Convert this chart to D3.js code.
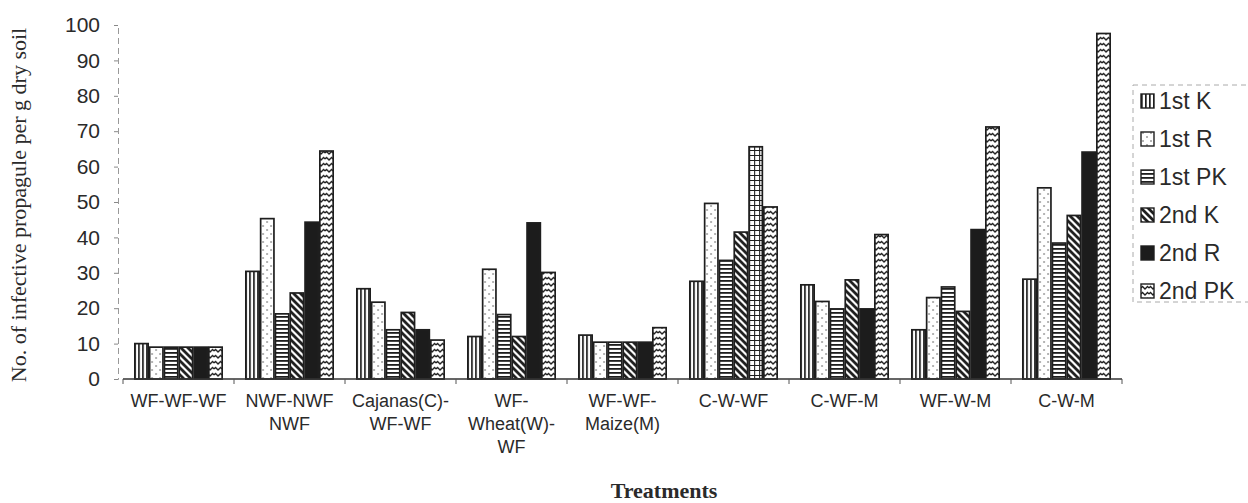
<!DOCTYPE html>
<html>
<head>
<meta charset="utf-8">
<script src="https://cdn.jsdelivr.net/npm/d3@7"></script>
<style>
  html, body { margin: 0; padding: 0; background: #fff; }
  svg { display: block; }
</style>
</head>
<body>
<svg id="chart" width="1248" height="503"></svg>
<script>
// ---------------- DATA ----------------
const categories = ["WF-WF-WF", "NWF-NWF-NWF", "Cajanas(C)-WF-WF", "WF-Wheat(W)-WF",
  "WF-WF-Maize(M)", "C-W-WF", "C-WF-M", "WF-W-M", "C-W-M"];
const categoryLines = [["WF-WF-WF"], ["NWF-NWF", "NWF"], ["Cajanas(C)-", "WF-WF"],
  ["WF-", "Wheat(W)-", "WF"], ["WF-WF-", "Maize(M)"], ["C-W-WF"], ["C-WF-M"], ["WF-W-M"], ["C-W-M"]];
const seriesNames = ["1st K", "1st R", "1st PK", "2nd K", "2nd R", "2nd PK"];
const first_K  = [10, 30.4, 25.5, 12, 12.4, 27.6, 26.6, 13.9, 28.2];
const first_R  = [9, 45.3, 21.7, 31, 10.4, 49.6, 21.9, 23, 54];
const first_PK = [9, 18.4, 13.9, 18.2, 10.4, 33.5, 19.8, 26, 38.4];
const second_K = [9, 24.3, 18.8, 12, 10.4, 41.5, 28, 19.1, 46.2];
const second_R = [9, 44.3, 13.9, 44.1, 10.4, 65.6, 19.8, 42.2, 64.1];
const second_PK = [9, 64.4, 11, 30.1, 14.5, 48.6, 40.8, 71.2, 97.6];
const yTicks = [0, 10, 20, 30, 40, 50, 60, 70, 80, 90, 100];
const yTitle = "No. of infective propagule per g dry soil";
const xTitle = "Treatments";

const seriesValues = [first_K, first_R, first_PK, second_K, second_R, second_PK];

// ---------------- CHART ----------------
(function () {
const svg = d3.select("#chart");
const ink = "#1e1e1e";
const defs = svg.append("defs");

function pat(id, w, h, build) {
  const p = defs.append("pattern").attr("id", id).attr("patternUnits", "userSpaceOnUse")
    .attr("width", w).attr("height", h);
  p.append("rect").attr("width", w).attr("height", h).attr("fill", "#fff");
  build(p);
}
pat("p-vert", 4, 4, p => p.append("rect").attr("x", 0).attr("y", 0).attr("width", 1.7).attr("height", 4).attr("fill", ink));
pat("p-dots", 8, 8, p => {
  p.append("circle").attr("cx", 2).attr("cy", 2).attr("r", 0.8).attr("fill", "#555");
  p.append("circle").attr("cx", 6).attr("cy", 6).attr("r", 0.8).attr("fill", "#555");
});
pat("p-horz", 4, 4, p => p.append("rect").attr("x", 0).attr("y", 0).attr("width", 4).attr("height", 1.8).attr("fill", ink));
pat("p-diag", 7, 7, p => {
  p.append("path").attr("d", "M-2,-2 L9,9 M-2,5 L2,9 M5,-2 L9,2").attr("stroke", ink).attr("stroke-width", 2.8);
});
pat("p-wave", 8, 6, p => {
  p.append("path").attr("d", "M0,3 L1.5,1.5 L4,4 L6.5,1.5 L8,3").attr("fill", "none").attr("stroke", ink).attr("stroke-width", 1.3);
});
pat("p-grid", 5, 5, p => {
  p.append("path").attr("d", "M0,0.5 L5,0.5 M0.5,0 L0.5,5").attr("stroke", ink).attr("stroke-width", 1.2);
});
const fills = ["url(#p-vert)", "url(#p-dots)", "url(#p-horz)", "url(#p-diag)", "#1c1c1c", "url(#p-wave)"];

const pLeft = 123, pRight = 1122, pTop = 25, pBottom = 379;
const x0 = d3.scaleBand().domain(categories).range([pLeft, pRight]).paddingInner(0.2).paddingOuter(0.1);
const x1 = d3.scaleBand().domain(seriesNames).range([0, x0.bandwidth()]).padding(0);
const y = d3.scaleLinear().domain([0, 100]).range([pBottom, pTop]);

// y axis (faint, dashed)
const yAxis = d3.axisLeft(y).tickValues(yTicks).tickSize(4).tickPadding(14);
const gy = svg.append("g").attr("transform", `translate(${pLeft - 5},0)`).call(yAxis);
gy.select(".domain").attr("stroke", "#999").attr("stroke-dasharray", "6,4").attr("stroke-width", 1);
gy.selectAll(".tick line").attr("stroke", "#888");
gy.selectAll(".tick text").attr("font-family", "Liberation Sans, Arial, sans-serif")
  .attr("font-size", 21).attr("fill", "#2a2a2a");

// bars
const groups = svg.append("g").selectAll("g").data(categories).join("g")
  .attr("transform", d => `translate(${x0(d)},0)`);
groups.selectAll("rect").data((c, ci) => seriesNames.map((s, si) => ({ s, si, ci, v: seriesValues[si][ci] })))
  .join("rect")
  .attr("x", d => x1(d.s) + 0.75)
  .attr("y", d => y(d.v))
  .attr("width", x1.bandwidth() - 1.5)
  .attr("height", d => y(0) - y(d.v))
  .attr("fill", d => (categories[d.ci] === "C-W-WF" && d.s === "2nd R") ? "url(#p-grid)" : fills[d.si])
  .attr("stroke", ink).attr("stroke-width", 1.7);

// x axis
const xAxisG = svg.append("g");
xAxisG.append("line").attr("x1", pLeft).attr("x2", pRight).attr("y1", pBottom).attr("y2", pBottom)
  .attr("stroke", "#333").attr("stroke-width", 1.3);
const sep = categories.map(c => x0(c) - x0.step() * x0.paddingInner() / 2).concat([pRight]);
xAxisG.selectAll("line.t").data(sep).join("line").attr("class", "t")
  .attr("x1", d => d).attr("x2", d => d).attr("y1", pBottom).attr("y2", pBottom + 5)
  .attr("stroke", "#555").attr("stroke-width", 1);

// x labels
const xl = svg.append("g").selectAll("text").data(categories).join("text")
  .attr("text-anchor", "middle")
  .attr("font-family", "Liberation Sans, Arial, sans-serif")
  .attr("font-size", 18).attr("fill", "#2a2a2a");
xl.each(function (d, i) {
  const t = d3.select(this);
  categoryLines[i].forEach((ln, k) => {
    t.append("tspan").attr("x", x0(d) + x0.bandwidth() / 2).attr("y", 407 + k * 23).text(ln);
  });
});

// axis titles
svg.append("text").attr("transform", `translate(26,205) rotate(-90)`)
  .attr("text-anchor", "middle").attr("font-family", "Liberation Serif, Times New Roman, serif")
  .attr("font-size", 22).attr("fill", "#2a2a2a").text(yTitle);
svg.append("text").attr("x", 664).attr("y", 498).attr("text-anchor", "middle")
  .attr("font-family", "Liberation Serif, Times New Roman, serif").attr("font-weight", "bold")
  .attr("font-size", 22).attr("fill", "#2a2a2a").text(xTitle);

// legend
const lg = svg.append("g");
lg.append("rect").attr("x", 1133).attr("y", 85).attr("width", 130).attr("height", 217)
  .attr("fill", "none").attr("stroke", "#aaa").attr("stroke-dasharray", "5,4").attr("stroke-width", 1);
const items = lg.selectAll("g.item").data(seriesNames).join("g").attr("class", "item")
  .attr("transform", (d, i) => `translate(1141,${101 + i * 38})`);
items.append("rect").attr("x", 0).attr("y", -7).attr("width", 13).attr("height", 14)
  .attr("fill", (d, i) => fills[i]).attr("stroke", ink).attr("stroke-width", 1.4);
items.append("text").attr("x", 18).attr("y", 8).attr("font-family", "Liberation Sans, Arial, sans-serif")
  .attr("font-size", 23).attr("fill", "#2a2a2a").text(d => d);
})();
</script>
</body>
</html>
